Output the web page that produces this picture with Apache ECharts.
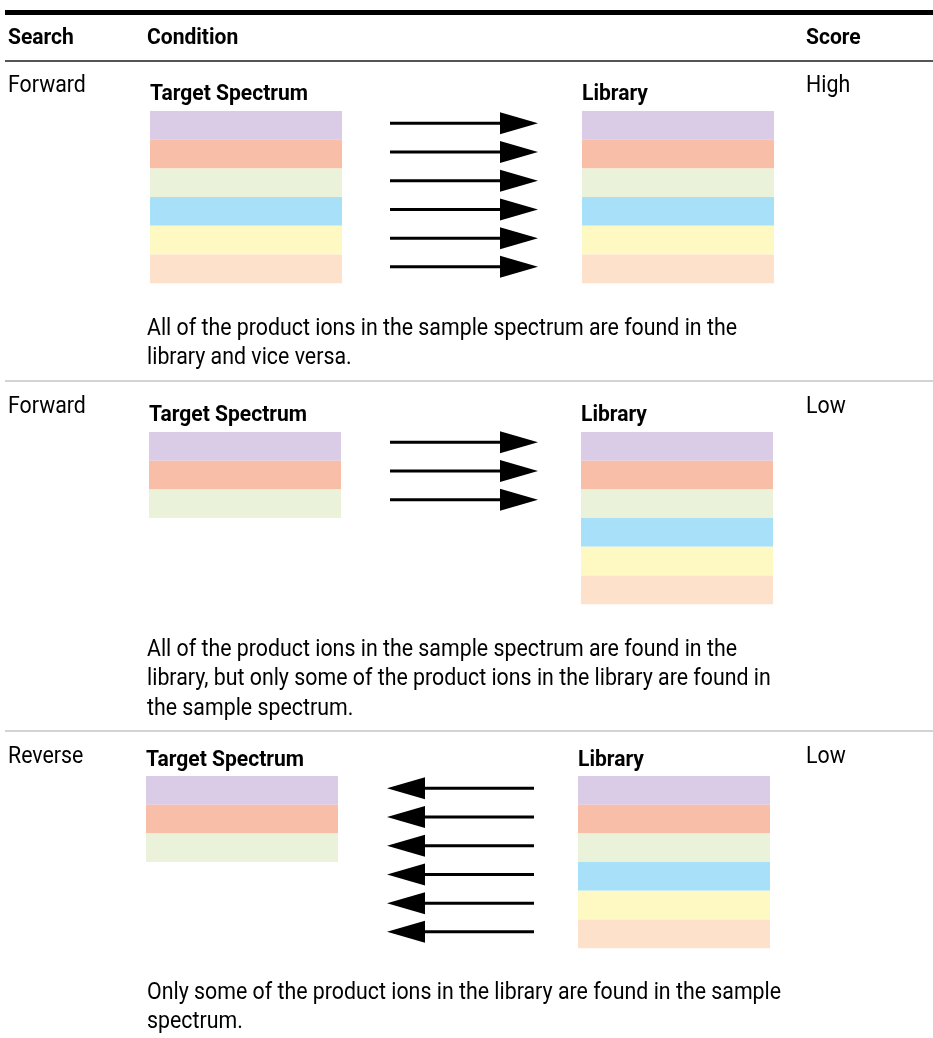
<!DOCTYPE html>
<html>
<head>
<meta charset="utf-8">
<script src="https://cdn.jsdelivr.net/npm/echarts@6/dist/echarts.min.js"></script>
<style>
html,body{margin:0;padding:0;background:#fff;}
#chart{width:933px;height:1038px;}
</style>
</head>
<body>
<div id="chart"></div>
<script>
// ---------- data ----------
const headers = ['Search', 'Condition', 'Score'];
const searchTypes = ['Forward', 'Forward', 'Reverse'];
const scores = ['High', 'Low', 'Low'];
const targetIonCounts = [6, 3, 3];
const libraryIonCounts = [6, 6, 6];
const arrowCounts = [6, 3, 6];
const arrowDirections = ['right', 'right', 'left'];
const panelLabels = ['Target Spectrum', 'Library'];
const descriptions = [
  ['All of the product ions in the sample spectrum are found in the',
   'library and vice versa.'],
  ['All of the product ions in the sample spectrum are found in the',
   'library, but only some of the product ions in the library are found in',
   'the sample spectrum.'],
  ['Only some of the product ions in the library are found in the sample',
   'spectrum.']
];
const bandColors = ['#dacce6', '#f9bea8', '#eaf2d9', '#a8e0f9', '#fef9c3', '#fde1cb'];

// ---------- layout / style ----------
const W = 933, H = 1038;
const FONT_FAMILY = "Roboto, 'Noto Sans', sans-serif";
const BODY_SIZE = 23, BOLD_SIZE = 22;
const rowLayout = [
  {sep: 61,  searchY: 86,  labelY: 94,  bandTop: 111, targetX: 150, libX: 582, arrowShift: -2, descY: 329},
  {sep: 381, searchY: 407, labelY: 415, bandTop: 432, targetX: 149, libX: 581, arrowShift: -4, descY: 650},
  {sep: 731, searchY: 757, labelY: 760, bandTop: 776, targetX: 146, libX: 578, arrowShift: -2, descY: 993}
];
const bandH = 28.7, bandW = 192;
const descLineH = 29.7;
const colX = [8, 147, 806];

// horizontal condensing so the glyphs match the narrow typeface of the reference
function measure(text, font) {
  const c = document.createElement('canvas').getContext('2d');
  c.font = font;
  return c.measureText(text).width;
}
const bodyFont = BODY_SIZE + 'px ' + FONT_FAMILY;
const boldFont = 'bold ' + BOLD_SIZE + 'px ' + FONT_FAMILY;
const BODY_SCALE = 590 / measure('All of the product ions in the sample spectrum are found in the', bodyFont);
const BOLD_SCALE = 158 / measure('Target Spectrum', boldFont);

// ---------- build data items ----------
const bandData = [];
targetIonCounts.forEach((n, r) => { for (let i = 0; i < n; i++) bandData.push([r, 0, i]); });
libraryIonCounts.forEach((n, r) => { for (let i = 0; i < n; i++) bandData.push([r, 1, i]); });
const arrowData = [];
arrowCounts.forEach((n, r) => { for (let i = 0; i < n; i++) arrowData.push([r, i]); });
const rowData = searchTypes.map((s, r) => [r]);

function txt(p, text, bold) {
  return {
    type: 'text',
    x: p[0], y: p[1],
    scaleX: bold ? BOLD_SCALE : BODY_SCALE,
    style: {
      text: text,
      fill: '#000',
      font: bold ? boldFont : bodyFont,
      align: 'left', textAlign: 'left',
      verticalAlign: 'middle', textVerticalAlign: 'middle'
    }
  };
}

const chart = echarts.init(document.getElementById('chart'), null, {renderer: 'canvas'});
chart.setOption({
  animation: false,
  backgroundColor: '#fff',
  grid: {left: 0, right: 0, top: 0, bottom: 0},
  xAxis: {type: 'value', min: 0, max: W, show: false},
  yAxis: {type: 'value', min: 0, max: H, inverse: true, show: false},
  series: [
    {
      type: 'custom', clip: false, silent: true,
      data: [[0]],
      renderItem: function (params, api) {
        const children = [];
        const a = api.coord([5, 12.5]), b = api.coord([W, 12.5]);
        children.push({type: 'line', shape: {x1: a[0], y1: a[1], x2: b[0], y2: b[1]}, style: {stroke: '#000', lineWidth: 5}});
        const c = api.coord([5, 61]), d = api.coord([W, 61]);
        children.push({type: 'line', shape: {x1: c[0], y1: c[1], x2: d[0], y2: d[1]}, style: {stroke: '#555', lineWidth: 2}});
        headers.forEach((h, k) => {
          children.push(txt(api.coord([colX[k], 38]), h, true));
        });
        return {type: 'group', children: children};
      }
    },
    {
      type: 'custom', clip: false, silent: true,
      data: rowData,
      renderItem: function (params, api) {
        const r = api.value(0);
        const L = rowLayout[r];
        const children = [];
        if (r > 0) {
          const a = api.coord([5, L.sep]), b = api.coord([W, L.sep]);
          children.push({type: 'line', shape: {x1: a[0], y1: a[1], x2: b[0], y2: b[1]}, style: {stroke: '#c4c4c4', lineWidth: 1.5}});
        }
        children.push(txt(api.coord([colX[0], L.searchY]), searchTypes[r], false));
        children.push(txt(api.coord([colX[2], L.searchY]), scores[r], false));
        children.push(txt(api.coord([L.targetX, L.labelY]), panelLabels[0], true));
        children.push(txt(api.coord([L.libX, L.labelY]), panelLabels[1], true));
        descriptions[r].forEach((line, k) => {
          children.push(txt(api.coord([colX[1], L.descY + k * descLineH]), line, false));
        });
        return {type: 'group', children: children};
      }
    },
    {
      type: 'custom', clip: false, silent: true,
      data: bandData,
      renderItem: function (params, api) {
        const r = api.value(0), s = api.value(1), i = api.value(2);
        const L = rowLayout[r];
        const x = s === 0 ? L.targetX : L.libX;
        const y = L.bandTop + i * bandH;
        const p0 = api.coord([x, y]), p1 = api.coord([x + bandW, y + bandH]);
        return {type: 'rect', shape: {x: p0[0], y: p0[1], width: p1[0] - p0[0], height: p1[1] - p0[1]},
                style: {fill: bandColors[i]}};
      }
    },
    {
      type: 'custom', clip: false, silent: true,
      data: arrowData,
      renderItem: function (params, api) {
        const r = api.value(0), i = api.value(1);
        const L = rowLayout[r];
        const yv = L.bandTop + (i + 0.5) * bandH + L.arrowShift;
        const right = arrowDirections[r] === 'right';
        let x0, xBase, xTip;
        if (right) { x0 = 390; xBase = 500; xTip = 538; }
        else { x0 = 534; xBase = 425; xTip = 387; }
        const a = api.coord([x0, yv]), b = api.coord([xBase, yv]);
        const t = api.coord([xTip, yv]);
        const up = api.coord([xBase, yv - 11]), dn = api.coord([xBase, yv + 11]);
        return {type: 'group', children: [
          {type: 'line', shape: {x1: a[0], y1: a[1], x2: b[0], y2: b[1]}, style: {stroke: '#000', lineWidth: 3}},
          {type: 'polygon', shape: {points: [t, up, dn]}, style: {fill: '#000'}}
        ]};
      }
    }
  ]
});
</script>
</body>
</html>
